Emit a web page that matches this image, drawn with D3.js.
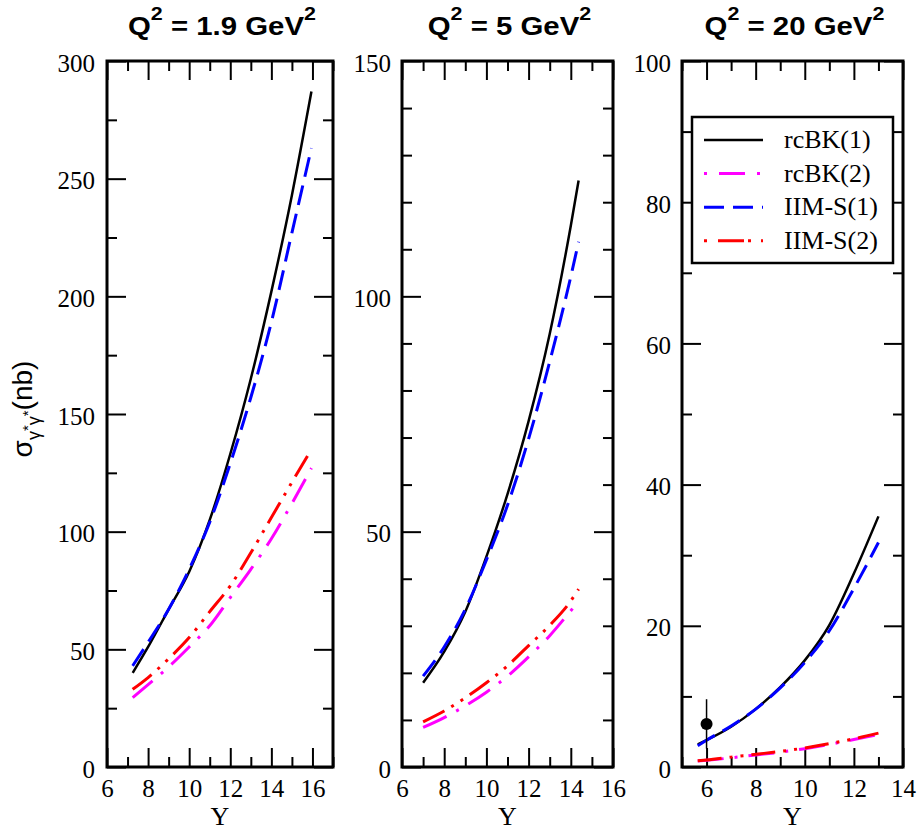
<!DOCTYPE html>
<html>
<head>
<meta charset="utf-8">
<script src="https://cdn.jsdelivr.net/npm/d3@7"></script>
<style>
  html, body { margin: 0; padding: 0; background: #fff; }
  svg { display: block; }
</style>
</head>
<body>
<div id="chart"></div>
<script>
// Q^2 = 1.9 GeV^2
const yQ19 = [7.25, 8, 9, 10, 11, 12, 13, 14, 15, 15.95];
const rcbk1Q19 = [40, 51, 67, 83, 105, 133, 165, 202, 243, 287];
const rcbk2Q19 = [29.5, 35, 42.5, 51, 60, 72, 84, 97, 112, 127];
const iims1Q19 = [43, 53, 67, 84, 104, 129, 157, 189, 227, 263];
const iims2Q19 = [33, 38, 46, 55, 66, 77, 91, 106, 121, 135];

// Q^2 = 5 GeV^2
const yQ5 = [7, 8, 9, 10, 11, 12, 13, 14, 14.37];
const rcbk1Q5 = [17.9, 24.5, 33, 44.7, 58, 73.5, 92, 115, 124.6];
const rcbk2Q5 = [8.4, 10.5, 13, 15.9, 19.3, 23.4, 27.9, 33.2, 35.2];
const iims1Q5 = [19.3, 25.5, 33.5, 44, 55.6, 69.7, 86.1, 104.2, 111.6];
const iims2Q5 = [9.6, 11.9, 14.7, 17.9, 21.5, 25.8, 30.1, 35.3, 37.8];

// Q^2 = 20 GeV^2
const yQ20 = [5.64, 6, 7, 8, 9, 10, 11, 12, 13];
const rcbk1Q20 = [3.2, 3.8, 5.7, 8.2, 11.3, 15.1, 20.1, 27.4, 35.5];
const rcbk2Q20 = [0.85, 0.95, 1.3, 1.7, 2.1, 2.6, 3.2, 3.9, 4.6];
const iims1Q20 = [3.0, 3.8, 5.8, 8.2, 11.2, 14.8, 19.3, 25.3, 31.8];
const iims2Q20 = [0.9, 1.0, 1.4, 1.8, 2.2, 2.7, 3.3, 4.0, 4.8];

// measured point (Q^2 = 20)
const dataY = [6];
const dataSigma = [6.1];
const dataErr = [3.5];

const seriesNames = ['rcBK(1)', 'rcBK(2)', 'IIM-S(1)', 'IIM-S(2)'];
const q2Labels = ['1.9', '5', '20'];

// tick values
const xMajor19 = [6, 8, 10, 12, 14, 16], xMinor19 = [7, 9, 11, 13, 15, 17];
const xMajor5 = [6, 8, 10, 12, 14, 16], xMinor5 = [7, 9, 11, 13, 15];
const xMajor20 = [6, 8, 10, 12, 14], xMinor20 = [5, 7, 9, 11, 13];
const yMajor19 = [0, 50, 100, 150, 200, 250, 300], yMinor19 = [25, 75, 125, 175, 225, 275];
const yMajor5 = [0, 50, 100, 150], yMinor5 = [10, 20, 30, 40, 60, 70, 80, 90, 110, 120, 130, 140];
const yMajor20 = [0, 20, 40, 60, 80, 100], yMinor20 = [10, 30, 50, 70, 90];

const styles = [
  { color: '#000000', dash: null, width: 2.5 },
  { color: '#ff00ff', dash: '26,11,3,11', width: 3 },
  { color: '#0000ff', dash: '20,9', width: 3 },
  { color: '#ff0000', dash: '24,8,3,8,3,8', width: 3 }
];

const serif = '"Liberation Serif", "Times New Roman", serif';
const sans = '"Liberation Sans", Arial, sans-serif';

const plotTop = 61, plotBottom = 767;

const panels = [
  { left: 107, right: 333, xDomain: [6, 17], yDomain: [0, 300], xs: yQ19,
    series: [rcbk1Q19, rcbk2Q19, iims1Q19, iims2Q19],
    xMajor: xMajor19, xMinor: xMinor19, yMajor: yMajor19, yMinor: yMinor19, labelGap: 12 },
  { left: 402, right: 613, xDomain: [6, 16], yDomain: [0, 150], xs: yQ5,
    series: [rcbk1Q5, rcbk2Q5, iims1Q5, iims2Q5],
    xMajor: xMajor5, xMinor: xMinor5, yMajor: yMajor5, yMinor: yMinor5, labelGap: 11 },
  { left: 682, right: 903, xDomain: [5, 14], yDomain: [0, 100], xs: yQ20,
    series: [rcbk1Q20, rcbk2Q20, iims1Q20, iims2Q20],
    xMajor: xMajor20, xMinor: xMinor20, yMajor: yMajor20, yMinor: yMinor20, labelGap: 11 }
];

const svg = d3.select('#chart').append('svg')
  .attr('width', 917)
  .attr('height', 830);

svg.append('rect').attr('width', 917).attr('height', 830).attr('fill', '#fff');

panels.forEach((p, pi) => {
  const x = d3.scaleLinear().domain(p.xDomain).range([p.left, p.right]);
  const y = d3.scaleLinear().domain(p.yDomain).range([plotBottom, plotTop]);
  const g = svg.append('g');

  const styleAxis = (sel, labels) => {
    sel.attr('font-family', serif).attr('font-size', 25);
    sel.select('.domain').remove();
    sel.selectAll('.tick line').attr('stroke', '#000').attr('stroke-width', 2);
    sel.selectAll('.tick text')
      .attr('fill', '#000')
      .attr('font-family', serif)
      .attr('font-size', 25);
    if (!labels) sel.selectAll('.tick text').remove();
  };

  // bottom / top ticks
  g.append('g').attr('transform', `translate(0,${plotBottom})`)
    .call(d3.axisBottom(x).tickValues(p.xMajor).tickSizeInner(-19).tickSizeOuter(0).tickPadding(12).tickFormat(d3.format('d')))
    .call(s => styleAxis(s, true));
  g.append('g').attr('transform', `translate(0,${plotBottom})`)
    .call(d3.axisBottom(x).tickValues(p.xMinor).tickSizeInner(-10).tickSizeOuter(0))
    .call(s => styleAxis(s, false));
  g.append('g').attr('transform', `translate(0,${plotTop})`)
    .call(d3.axisTop(x).tickValues(p.xMajor).tickSizeInner(-19).tickSizeOuter(0))
    .call(s => styleAxis(s, false));
  g.append('g').attr('transform', `translate(0,${plotTop})`)
    .call(d3.axisTop(x).tickValues(p.xMinor).tickSizeInner(-10).tickSizeOuter(0))
    .call(s => styleAxis(s, false));

  // left / right ticks
  g.append('g').attr('transform', `translate(${p.left},0)`)
    .call(d3.axisLeft(y).tickValues(p.yMajor).tickSizeInner(-19).tickSizeOuter(0).tickPadding(p.labelGap).tickFormat(d3.format('d')))
    .call(s => styleAxis(s, true))
    .call(s => s.selectAll('.tick text').attr('dy', '0.4em'));
  g.append('g').attr('transform', `translate(${p.left},0)`)
    .call(d3.axisLeft(y).tickValues(p.yMinor).tickSizeInner(-10).tickSizeOuter(0))
    .call(s => styleAxis(s, false));
  g.append('g').attr('transform', `translate(${p.right},0)`)
    .call(d3.axisRight(y).tickValues(p.yMajor).tickSizeInner(-19).tickSizeOuter(0))
    .call(s => styleAxis(s, false));
  g.append('g').attr('transform', `translate(${p.right},0)`)
    .call(d3.axisRight(y).tickValues(p.yMinor).tickSizeInner(-10).tickSizeOuter(0))
    .call(s => styleAxis(s, false));

  // curves
  const line = d3.line()
    .x(d => x(d[0]))
    .y(d => y(d[1]))
    .curve(d3.curveMonotoneX);

  p.series.forEach((vals, si) => {
    const st = styles[si];
    g.append('path')
      .datum(p.xs.map((v, i) => [v, vals[i]]))
      .attr('d', line)
      .attr('fill', 'none')
      .attr('stroke', st.color)
      .attr('stroke-width', st.width)
      .attr('stroke-dasharray', st.dash);
  });

  // frame
  g.append('rect')
    .attr('x', p.left).attr('y', plotTop)
    .attr('width', p.right - p.left).attr('height', plotBottom - plotTop)
    .attr('fill', 'none').attr('stroke', '#000').attr('stroke-width', 3);

  // title
  const cx = (p.left + p.right) / 2 + 2;
  const title = g.append('text')
    .attr('transform', `translate(${cx},35) scale(1.13,1)`)
    .attr('text-anchor', 'middle')
    .style('font-family', sans)
    .style('font-weight', 'bold')
    .style('font-size', '26px');
  title.append('tspan').text('Q');
  title.append('tspan').attr('dy', -15).style('font-size', '19px').text('2');
  title.append('tspan').attr('dy', 15).text(` = ${q2Labels[pi]} GeV`);
  title.append('tspan').attr('dy', -15).style('font-size', '19px').text('2');

  // x label
  g.append('text')
    .attr('x', (p.left + p.right) / 2)
    .attr('y', 825)
    .attr('text-anchor', 'middle')
    .style('font-family', serif)
    .style('font-size', '26px')
    .text('Y');

  // data point in last panel
  if (pi === 2) {
    dataY.forEach((v, i) => {
      g.append('line')
        .attr('x1', x(v)).attr('x2', x(v))
        .attr('y1', y(dataSigma[i] + dataErr[i]))
        .attr('y2', y(dataSigma[i] - dataErr[i]))
        .attr('stroke', '#000').attr('stroke-width', 1.5);
      g.append('circle')
        .attr('cx', x(v)).attr('cy', y(dataSigma[i]))
        .attr('r', 6).attr('fill', '#000');
    });

    // legend
    const lg = g.append('g');
    lg.append('rect')
      .attr('x', 692).attr('y', 117)
      .attr('width', 201).attr('height', 146)
      .attr('fill', '#fff').attr('stroke', '#000').attr('stroke-width', 2.5);
    seriesNames.forEach((name, i) => {
      const ly = 140 + i * 33.6;
      const st = styles[i];
      lg.append('line')
        .attr('x1', 704).attr('x2', 763)
        .attr('y1', ly).attr('y2', ly)
        .attr('stroke', st.color)
        .attr('stroke-width', st.width)
        .attr('stroke-dasharray', i === 1 ? '3,12,26,12,3,20' : i === 3 ? '3,11,26,4,3,10,3,20' : st.dash);
      lg.append('text')
        .attr('x', 784).attr('y', ly + 8)
        .style('font-family', serif)
        .style('font-size', '26px')
        .text(name);
    });
  }
});

// y-axis label
const yl = svg.append('text')
  .attr('transform', 'translate(32,409) rotate(-90)')
  .attr('text-anchor', 'middle')
  .style('font-family', sans)
  .style('font-size', '28px');
yl.append('tspan').text('σ');
yl.append('tspan').attr('dy', 8).style('font-size', '18px').text('γ');
yl.append('tspan').attr('dy', -7).style('font-size', '15px').text('*');
yl.append('tspan').attr('dy', 7).style('font-size', '18px').text('γ');
yl.append('tspan').attr('dy', -7).style('font-size', '15px').text('*');
yl.append('tspan').attr('dy', -1).text('(nb)');
</script>
</body>
</html>
